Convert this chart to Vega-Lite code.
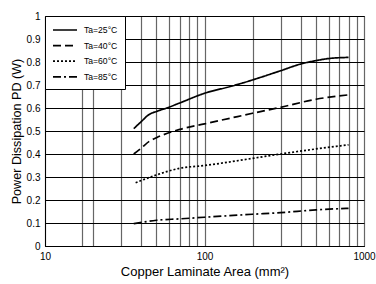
{
  "$schema": "https://vega.github.io/schema/vega-lite/v6.json",
  "width": 319,
  "height": 230,
  "autosize": "none",
  "padding": {"left": 45, "top": 16, "right": 12, "bottom": 38},
  "background": "white",
  "config": {
    "font": "Liberation Sans",
    "view": {"stroke": "black", "strokeWidth": 1},
    "axis": {"labelFont": "Liberation Sans", "titleFont": "Liberation Sans", "labelColor": "black", "titleColor": "black", "titleFontWeight": "normal", "domainColor": "black", "tickSize": 0}
  },
  "data": {
    "values": [
      {"area": 36, "pd": 0.51, "series": "Ta=25°C"},
      {"area": 40, "pd": 0.54, "series": "Ta=25°C"},
      {"area": 45, "pd": 0.572, "series": "Ta=25°C"},
      {"area": 50, "pd": 0.585, "series": "Ta=25°C"},
      {"area": 58, "pd": 0.6, "series": "Ta=25°C"},
      {"area": 70, "pd": 0.622, "series": "Ta=25°C"},
      {"area": 100, "pd": 0.664, "series": "Ta=25°C"},
      {"area": 150, "pd": 0.696, "series": "Ta=25°C"},
      {"area": 200, "pd": 0.722, "series": "Ta=25°C"},
      {"area": 300, "pd": 0.762, "series": "Ta=25°C"},
      {"area": 400, "pd": 0.791, "series": "Ta=25°C"},
      {"area": 500, "pd": 0.806, "series": "Ta=25°C"},
      {"area": 600, "pd": 0.815, "series": "Ta=25°C"},
      {"area": 800, "pd": 0.82, "series": "Ta=25°C"},
      {"area": 36, "pd": 0.4, "series": "Ta=40°C"},
      {"area": 40, "pd": 0.425, "series": "Ta=40°C"},
      {"area": 45, "pd": 0.455, "series": "Ta=40°C"},
      {"area": 50, "pd": 0.471, "series": "Ta=40°C"},
      {"area": 70, "pd": 0.507, "series": "Ta=40°C"},
      {"area": 100, "pd": 0.531, "series": "Ta=40°C"},
      {"area": 150, "pd": 0.558, "series": "Ta=40°C"},
      {"area": 200, "pd": 0.577, "series": "Ta=40°C"},
      {"area": 300, "pd": 0.603, "series": "Ta=40°C"},
      {"area": 500, "pd": 0.638, "series": "Ta=40°C"},
      {"area": 800, "pd": 0.657, "series": "Ta=40°C"},
      {"area": 37, "pd": 0.275, "series": "Ta=60°C"},
      {"area": 50, "pd": 0.309, "series": "Ta=60°C"},
      {"area": 70, "pd": 0.338, "series": "Ta=60°C"},
      {"area": 100, "pd": 0.35, "series": "Ta=60°C"},
      {"area": 200, "pd": 0.381, "series": "Ta=60°C"},
      {"area": 300, "pd": 0.4, "series": "Ta=60°C"},
      {"area": 500, "pd": 0.422, "series": "Ta=60°C"},
      {"area": 800, "pd": 0.44, "series": "Ta=60°C"},
      {"area": 36, "pd": 0.097, "series": "Ta=85°C"},
      {"area": 50, "pd": 0.112, "series": "Ta=85°C"},
      {"area": 70, "pd": 0.118, "series": "Ta=85°C"},
      {"area": 100, "pd": 0.125, "series": "Ta=85°C"},
      {"area": 200, "pd": 0.138, "series": "Ta=85°C"},
      {"area": 300, "pd": 0.145, "series": "Ta=85°C"},
      {"area": 500, "pd": 0.157, "series": "Ta=85°C"},
      {"area": 800, "pd": 0.164, "series": "Ta=85°C"}
    ]
  },
  "mark": {"type": "line", "color": "black", "strokeWidth": 1.7, "interpolate": "monotone"},
  "encoding": {
    "x": {
      "field": "area", "type": "quantitative",
      "scale": {"type": "log", "domain": [10, 1000], "nice": false},
      "axis": {
        "title": "Copper Laminate Area (mm²)",
        "values": [10, 17, 20, 30, 40, 50, 60, 70, 80, 90, 100, 200, 300, 400, 500, 600, 700, 800, 900, 1000],
        "labelExpr": "datum.value == 10 || datum.value == 100 || datum.value == 1000 ? datum.value : ''",
        "grid": true, "gridColor": "#666666", "gridWidth": 1.2,
        "labelFontSize": 10, "labelPadding": 5, "labelFlush": false, "labelOverlap": false,
        "titleFontSize": 13, "titlePadding": 4
      }
    },
    "y": {
      "field": "pd", "type": "quantitative",
      "scale": {"domain": [0, 1], "nice": false},
      "axis": {
        "title": "Power Dissipation PD (W)",
        "values": [0, 0.1, 0.2, 0.3, 0.4, 0.5, 0.6, 0.7, 0.8, 0.9, 1],
        "format": ".1~f",
        "grid": true, "gridColor": "black", "gridWidth": 1,
        "labelFontSize": 10, "labelPadding": 5,
        "titleFontSize": 12.6, "titlePadding": 3
      }
    },
    "strokeDash": {
      "field": "series", "type": "nominal",
      "scale": {"domain": ["Ta=25°C", "Ta=40°C", "Ta=60°C", "Ta=85°C"], "range": [[1, 0], [8, 4], [2, 2], [8, 3, 2, 3]]},
      "legend": {
        "title": null, "orient": "top-left", "offset": 0,
        "fillColor": "white", "strokeColor": "black", "padding": 7,
        "labelFontSize": 8.6, "labelOffset": 12, "labelFont": "Liberation Sans",
        "symbolType": "M-2,0H2", "symbolSize": 144, "symbolOffset": 6,
        "symbolStrokeWidth": 1.7, "symbolStrokeColor": "black", "symbolFillColor": "transparent",
        "rowPadding": 3.6
      }
    }
  }
}
